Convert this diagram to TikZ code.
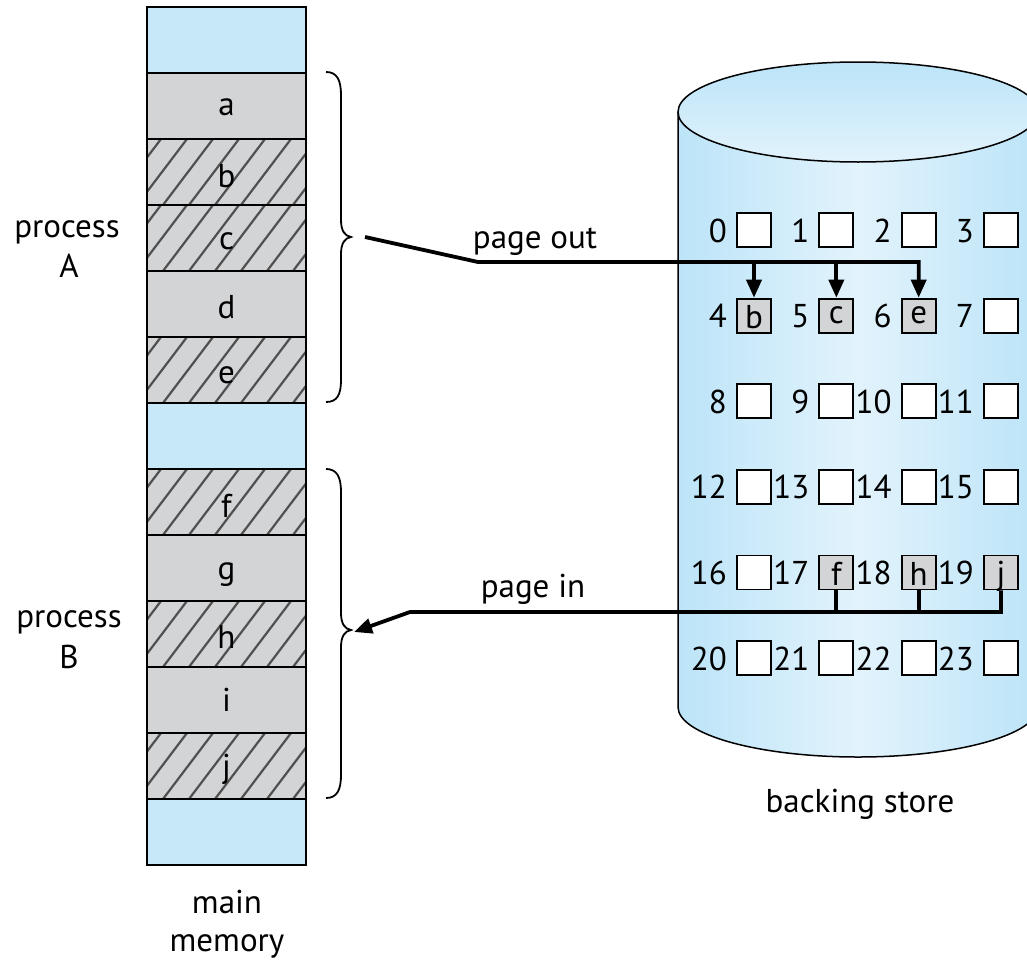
\documentclass[tikz,border=0pt]{standalone}
\usepackage{fontspec}
\setmainfont{PT Sans}
\usetikzlibrary{arrows.meta}
\definecolor{memblue}{HTML}{C6E8F8}
\definecolor{cellgray}{HTML}{D3D4D6}
\definecolor{hatchc}{HTML}{505050}
\definecolor{cylmid}{HTML}{E2F3FC}
\definecolor{cyledge}{HTML}{BCE4F8}
\newcommand\hatchrow[1]{%
  \fill[cellgray] (147,#1) rectangle (306,#1+66);
  \begin{scope}
    \clip (147,#1) rectangle (306,#1+66);
    \foreach \k in {0,...,10} \draw[hatchc, line width=2.2pt] (85+26*\k,#1+66) -- ++(50,-66);
  \end{scope}}
\tikzset{
  cell/.style={draw, line width=2.2pt, minimum width=159pt, minimum height=66pt, inner sep=0pt},
  sbox/.style={draw, line width=1.8pt, fill=white, minimum size=34pt, inner sep=0pt},
  gbox/.style={sbox, fill=cellgray},
  txt/.style={font=\fontsize{33}{40}\selectfont, inner sep=0pt},
  conn/.style={line width=3.8pt, line join=miter},
  bracepath/.style={line width=1.8pt},
  headarrow/.style={-{Triangle[length=18pt,width=15pt]}}
}
\begin{document}
\begin{tikzpicture}[x=1pt,y=-1pt]
\useasboundingbox (0,0) rectangle (1027,961);
% ---------- backing store cylinder ----------
\shade[left color=cyledge, right color=cyledge, middle color=cylmid]
  (678,112) -- (678,707) arc[start angle=180, end angle=0, x radius=180, y radius=50] -- (1038,112) -- cycle;
\draw[line width=1.5pt] (678,112) -- (678,707) arc[start angle=180, end angle=0, x radius=180, y radius=50] -- (1038,112);
\shade[top color=cyledge, bottom color=cylmid] (858,112) ellipse [x radius=180, y radius=50];
\draw[line width=1.5pt] (858,112) ellipse [x radius=180, y radius=50];
% ---------- memory column ----------
\fill[memblue] (147,7) rectangle (306,73);
\fill[cellgray] (147,73) rectangle (306,139);
\hatchrow{139}
\hatchrow{205}
\fill[cellgray] (147,271) rectangle (306,337);
\hatchrow{337}
\fill[memblue] (147,403) rectangle (306,469);
\hatchrow{469}
\fill[cellgray] (147,535) rectangle (306,601);
\hatchrow{601}
\fill[cellgray] (147,667) rectangle (306,733);
\hatchrow{733}
\fill[memblue] (147,799) rectangle (306,865);
\foreach \i in {0,...,12} \node[cell] (m\i) at (226.5,40+66*\i) {};
\node[txt, anchor=base, yshift=-9pt] (la) at (m1) {a};
\node[txt, anchor=base, yshift=-15pt] (lb) at (m2) {b};
\node[txt, anchor=base, yshift=-11pt] (lc) at (m3) {c};
\node[txt, anchor=base, yshift=-14pt] (ld) at (m4) {d};
\node[txt, anchor=base, yshift=-13pt] (le) at (m5) {e};
\node[txt, anchor=base, yshift=-15pt] (lf) at (m7) {f};
\node[txt, anchor=base, yshift=-11pt] (lg) at (m8) {g};
\node[txt, anchor=base, yshift=-14pt] (lh) at (m9) {h};
\node[txt, anchor=base, yshift=-11pt] (li) at (m10) {i};
\node[txt, anchor=base, yshift=-11pt] (lj) at (m11) {j};
% ---------- braces ----------
\draw[bracepath] (326,72) .. controls (337,72) and (341,80) .. (341,95) -- (341,220)
  .. controls (341,231) and (345,236) .. (351,237) .. controls (345,238) and (341,243) .. (341,254)
  -- (341,380) .. controls (341,395) and (337,402) .. (326,402);
\draw[bracepath] (326,469) .. controls (337,469) and (341,477) .. (341,492) -- (341,613)
  .. controls (341,624) and (345,629) .. (351,630) .. controls (345,631) and (341,636) .. (341,647)
  -- (341,775) .. controls (341,790) and (337,798) .. (326,798);
% ---------- labels ----------
\node[txt, anchor=base] (procA) at (67,237) {process};
\node[txt, anchor=base] (procAl) at (69,277) {A};
\node[txt, anchor=base] (procB) at (69,627) {process};
\node[txt, anchor=base] (procBl) at (69,668) {B};
\node[txt, anchor=base] (mainl) at (227,913) {main};
\node[txt, anchor=base] (meml) at (227,951) {memory};
\node[txt, anchor=base] (bsl) at (860,812) {backing store};
\node[txt, anchor=base] (pol) at (535,248) {page out};
\node[txt, anchor=base] (pil) at (533,597) {page in};
% ---------- store grid ----------
\foreach \r in {0,...,5} {
  \foreach \c in {0,...,3} {
    \pgfmathtruncatemacro\n{4*\r+\c}
    \node[sbox] (s\n) at (754+82.33*\c, 230+85.6*\r) {};
    \node[txt, anchor=base east, xshift=-9pt, yshift=-12pt] (n\n) at (s\n.west) {\n};
  }
}
\node[gbox] (g4) at (s4) {};
\node[gbox] (g5) at (s5) {};
\node[gbox] (g6) at (s6) {};
\node[gbox] (g17) at (s17) {};
\node[gbox] (g18) at (s18) {};
\node[gbox] (g19) at (s19) {};
\node[txt, anchor=base, yshift=-13pt] (tb) at (g4) {b};
\node[txt, anchor=base, yshift=-8pt] (tc) at (g5) {c};
\node[txt, anchor=base, yshift=-8pt] (te) at (g6) {e};
\node[txt, anchor=base, yshift=-13pt] (tf) at (g17) {f};
\node[txt, anchor=base, yshift=-13pt] (th) at (g18) {h};
\node[txt, anchor=base, yshift=-12pt] (tj) at (g19) {j};
% ---------- page out ----------
\coordinate (po1) at (365,237);
\coordinate (po2) at (478,262);
\draw[conn, headarrow] (po1) -- (po2) -- (g6.north |- po2) -- (g6.north);
\draw[conn, headarrow] (g4.north |- po2) -- (g4.north);
\draw[conn, headarrow] (g5.north |- po2) -- (g5.north);
% ---------- page in ----------
\coordinate (pi1) at (410,612);
\coordinate (pi2) at (354,632);
\draw[conn, headarrow] (g19.south) -- (g19.south |- pi1) -- (pi1) -- (pi2);
\draw[conn] (g17.south) -- (g17.south |- pi1);
\draw[conn] (g18.south) -- (g18.south |- pi1);
\end{tikzpicture}
\end{document}
